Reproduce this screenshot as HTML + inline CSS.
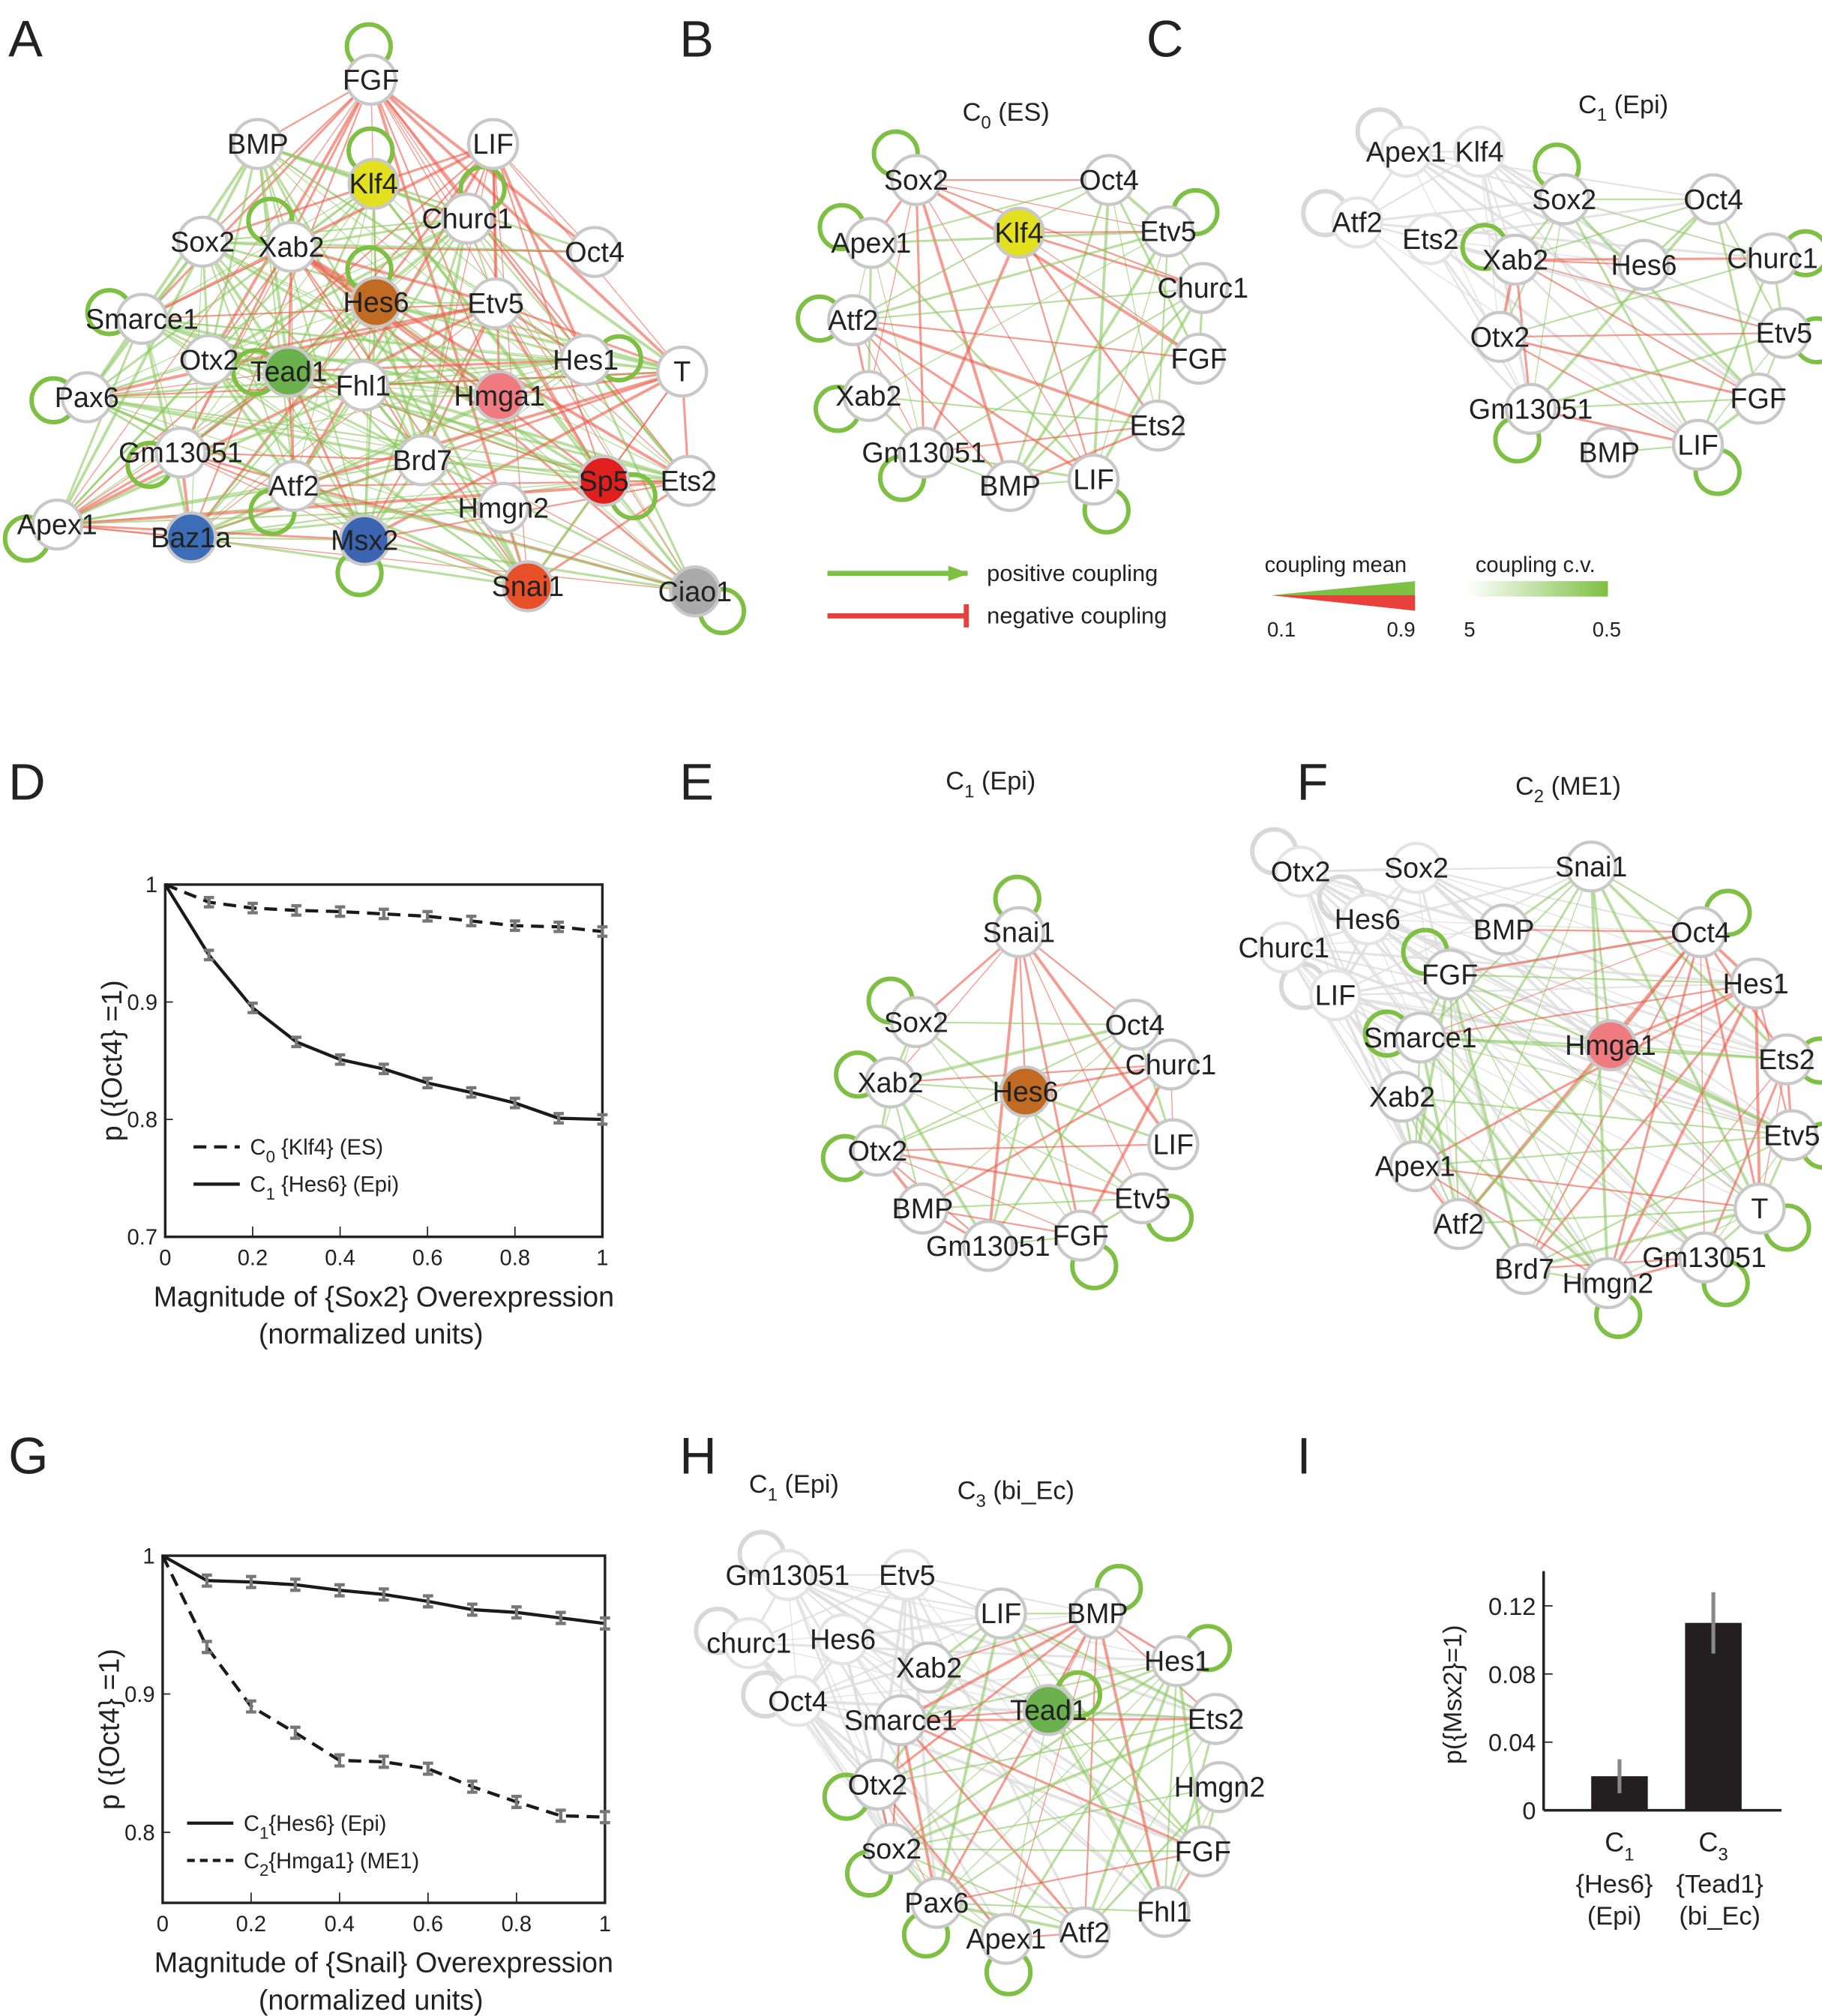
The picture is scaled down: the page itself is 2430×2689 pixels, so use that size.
<!DOCTYPE html>
<html><head><meta charset="utf-8"><style>
html,body{margin:0;padding:0;background:#fff}
svg{display:block}
text{font-family:"Liberation Sans Narrow","Liberation Sans",sans-serif;fill:#222}
.pl{font-family:"Liberation Sans",sans-serif;font-size:40px}
.nl{font-size:22px;text-anchor:middle;dominant-baseline:central}
.t{font-size:20px}
</style></head><body>
<svg id="fig" width="2430" height="2689" viewBox="0 0 1416 1568" xmlns="http://www.w3.org/2000/svg">
<g id="edges"></g>
<g id="nodes"></g>
<g>
<text class="pl" x="6" y="44">A</text><text class="pl" x="528" y="44">B</text><text class="pl" x="891" y="44">C</text>
<text class="pl" x="6" y="622">D</text><text class="pl" x="528" y="622">E</text><text class="pl" x="1008" y="622">F</text>
<text class="pl" x="6" y="1146">G</text><text class="pl" x="528" y="1146">H</text><text class="pl" x="1008" y="1146">I</text>
</g>
<g>
<text class="t" x="748" y="94">C<tspan font-size="14" dy="6">0</tspan><tspan dy="-6"> (ES)</tspan></text>
<text class="t" x="1227" y="88">C<tspan font-size="14" dy="6">1</tspan><tspan dy="-6">  (Epi)</tspan></text>
<text class="t" x="735" y="614">C<tspan font-size="14" dy="6">1</tspan><tspan dy="-6">  (Epi)</tspan></text>
<text class="t" x="1178" y="618">C<tspan font-size="14" dy="6">2</tspan><tspan dy="-6">  (ME1)</tspan></text>
<text class="t" x="582" y="1161">C<tspan font-size="14" dy="6">1</tspan><tspan dy="-6">  (Epi)</tspan></text>
<text class="t" x="744" y="1166">C<tspan font-size="14" dy="6">3</tspan><tspan dy="-6">  (bi_Ec)</tspan></text>
</g>
<g>
<defs><linearGradient id="cv" x1="0" x2="1"><stop offset="0" stop-color="#fff"/><stop offset="1" stop-color="#7dc043"/></linearGradient>
<marker id="ah" markerUnits="userSpaceOnUse" markerWidth="16" markerHeight="12" refX="15" refY="6" orient="auto"><path d="M0,0L16,6L0,12z" fill="#7dc043"/></marker></defs>
<line x1="643" y1="446" x2="752" y2="446" stroke="#7dc043" stroke-width="4" marker-end="url(#ah)"/>
<text x="767" y="452" font-size="18" fill="#444">positive coupling</text>
<line x1="643" y1="479" x2="750" y2="479" stroke="#e8403a" stroke-width="4"/>
<line x1="751" y1="470" x2="751" y2="488" stroke="#e8403a" stroke-width="4"/>
<text x="767" y="485" font-size="18" fill="#444">negative coupling</text>
<text x="983" y="445" font-size="17" fill="#444">coupling mean</text>
<polygon points="988,463 1100,452 1100,463" fill="#7dc043"/>
<polygon points="988,463 1100,463 1100,475" fill="#e8403a"/>
<text x="985" y="495" font-size="16">0.1</text><text x="1078" y="495" font-size="16">0.9</text>
<text x="1147" y="445" font-size="17" fill="#444">coupling c.v.</text>
<rect x="1140" y="452" width="110" height="12" fill="url(#cv)"/>
<text x="1138" y="495" font-size="16">5</text><text x="1238" y="495" font-size="16">0.5</text>
</g>
<g id="chartD"></g>
<g id="chartG"></g>
<g id="chartI"></g>
</svg>
<script>
const NS="http://www.w3.org/2000/svg";
function mk(p,tag,at){const e=document.createElementNS(NS,tag);for(const k in at)e.setAttribute(k,at[k]);p.appendChild(e);return e;}
const netA=[["FGF",288,62],["BMP",200,112],["Klf4",290,143,"#e3e020"],["LIF",383,112],["Churc1",363,170],["Sox2",157,188],["Xab2",226,192],["Oct4",462,196],["Hes6",292,235,"#c06a22"],["Etv5",385,236],["Smarce1",110,248],["Otx2",162,280],["Tead1",224,289,"#6ab04c"],["Fhl1",282,300],["Hes1",455,280],["T",530,289],["Pax6",67,309],["Hmga1",388,308,"#ef7a80"],["Gm13051",140,352],["Brd7",328,358],["Sp5",469,374,"#e0201f"],["Ets2",535,374],["Atf2",228,378],["Hmgn2",391,395],["Apex1",44,408],["Baz1a",148,418,"#3c6eb8"],["Msx2",283,420,"#3c64b0"],["Snai1",410,456,"#e8502a"],["Ciao1",540,460,"#aaaaaa"]];
const netB=[["Sox2",712,140],["Oct4",862,140],["Apex1",677,189],["Klf4",792,181,"#e3e020"],["Etv5",908,180],["Churc1",935,224],["Atf2",663,249],["FGF",932,279],["Xab2",675,308],["Ets2",900,331],["Gm13051",718,352],["BMP",785,378],["LIF",850,373]];
const netC=[["Apex1",1093,118,"g"],["Klf4",1150,118,"g"],["Atf2",1055,173,"g"],["Ets2",1112,186,"g"],["Sox2",1216,155],["Oct4",1332,155],["Xab2",1178,202],["Hes6",1278,206],["Churc1",1378,201],["Otx2",1166,262],["Etv5",1387,259],["FGF",1367,310],["Gm13051",1190,318],["BMP",1251,352],["LIF",1320,346]];
const netE=[["Snai1",792,725],["Oct4",882,797],["Sox2",712,795],["Churc1",910,828],["Xab2",692,842],["Hes6",797,849,"#c06a22"],["Otx2",682,895],["LIF",912,890],["Etv5",888,932],["BMP",717,940],["FGF",840,961],["Gm13051",768,969]];
const netF=[["Otx2",1011,678,"g"],["Sox2",1101,675,"g"],["Hes6",1063,715,"g"],["Churc1",998,737,"g"],["LIF",1038,774,"g"],["Snai1",1237,674],["Oct4",1322,725],["BMP",1169,723],["FGF",1127,758],["Hes1",1365,765],["Smarce1",1104,807],["Hmga1",1252,813,"#ef7a80"],["Ets2",1389,824],["Xab2",1090,853],["Etv5",1393,883],["Apex1",1100,907],["T",1368,940],["Atf2",1134,952],["Gm13051",1325,978],["Brd7",1185,987],["Hmgn2",1250,998]];
const netH=[["Gm13051",612,1225,"g"],["Etv5",705,1225,"g"],["churc1",582,1278,"g"],["Hes6",655,1275,"g"],["Oct4",620,1323,"g"],["LIF",778,1255],["BMP",853,1255],["Xab2",722,1297],["Hes1",915,1292],["Smarce1",700,1338],["Tead1",815,1330,"#6ab04c"],["Ets2",945,1337],["Otx2",682,1388],["Hmgn2",948,1390],["sox2",693,1438],["FGF",935,1440],["Pax6",728,1480],["Fhl1",905,1487],["Apex1",782,1508],["Atf2",843,1503]];
const EG=document.getElementById('edges'),ND=document.getElementById('nodes');
function drawNet(nodes,name,dens){
  let cx=0,cy=0;nodes.forEach(n=>{cx+=n[1];cy+=n[2]});cx/=nodes.length;cy/=nodes.length;
  for(let i=0;i<nodes.length;i++)for(let j=i+1;j<nodes.length;j++){
    const h=(i*7+j*13+i*j)%10; if(h>=dens)continue;
    const a=nodes[i],b=nodes[j];const gray=a[3]==="g"||b[3]==="g";
    const col=gray?"#dcdcdc":((i+j*3)%3?"#8cc860":"#ec5a48");
    const l=mk(EG,'line',{x1:a[1],y1:a[2],x2:b[1],y2:b[2],stroke:col,'stroke-width':((i*3+j)%4)*0.5+0.8,'stroke-opacity':gray?0.8:0.6});
    
    
  }
  nodes.forEach((n,i)=>{
    if(i%2===0){let dx=n[1]-cx,dy=n[2]-cy,d=Math.hypot(dx,dy)||1;dx/=d;dy/=d;
      const c=mk(EG,'circle',{cx:n[1]+dx*26,cy:n[2]+dy*26,r:17,fill:'none',stroke:n[3]==="g"?"#d8d8d8":"#7dc043",'stroke-width':3.5});
      
      }
  });
  nodes.forEach(n=>{
    const g=mk(ND,'g',{});
    
    
    const fill=(n[3]&&n[3]!=="g")?n[3]:"#fff";
    mk(g,'circle',{cx:n[1],cy:n[2],r:19,fill:fill,stroke:n[3]==="g"?"#e4e4e4":"#c8c8c8",'stroke-width':2.5});
    const t=mk(g,'text',{x:n[1],y:n[2],class:'nl'});t.textContent=n[0];
  });
}
drawNet(netA,'net-a',6);drawNet(netB,'net-b',7);drawNet(netC,'net-c',7);
drawNet(netE,'net-e',7);drawNet(netF,'net-f',7);drawNet(netH,'net-h',7);
const xVals=[0,0.1,0.2,0.3,0.4,0.5,0.6,0.7,0.8,0.9,1];
const xTicks=[0,0.2,0.4,0.6,0.8,1];
const dKlf4=[1,0.985,0.98,0.978,0.977,0.975,0.973,0.969,0.965,0.964,0.96];
const dHes6=[1,0.94,0.895,0.866,0.851,0.843,0.831,0.823,0.814,0.801,0.8];
const dYTicks=[0.7,0.8,0.9,1];
const gHes6=[1,0.982,0.981,0.979,0.975,0.972,0.967,0.961,0.959,0.955,0.951];
const gHmga1=[1,0.934,0.891,0.872,0.852,0.851,0.846,0.833,0.822,0.812,0.811];
const gYTicks=[0.8,0.9,1];
function lineChart(g,o){
  const X=v=>o.x0+(o.x1-o.x0)*v, Y=v=>o.y1-(o.y1-o.y0)*(v-o.ymin)/(o.ymax-o.ymin);
  const r=mk(g,'rect',{x:o.x0,y:o.y0,width:o.x1-o.x0,height:o.y1-o.y0,fill:'none',stroke:'#222','stroke-width':2});
  
  o.yt.forEach(v=>{mk(g,'line',{x1:o.x0,x2:o.x0+6,y1:Y(v),y2:Y(v),stroke:'#222'});
    const t=mk(g,'text',{x:o.x0-6,y:Y(v)+6,'font-size':17,'text-anchor':'end'});t.textContent=String(v);
    });
  xTicks.forEach(v=>{mk(g,'line',{x1:X(v),x2:X(v),y1:o.y1,y2:o.y1-8,stroke:'#222'});
    const t=mk(g,'text',{x:X(v),y:o.y1+22,'font-size':17,'text-anchor':'middle'});t.textContent=String(v);
    });
  o.series.forEach(s=>{
    const p=mk(g,'path',{d:s.v.map((v,i)=>(i?'L':'M')+X(xVals[i])+','+Y(v)).join(''),fill:'none',stroke:'#1a1a1a','stroke-width':2.5,'stroke-dasharray':s.dash||''});
    
    s.v.forEach((v,i)=>{if(!i)return;const x=X(xVals[i]),e=0.004;
      const b=mk(g,'path',{d:`M${x},${Y(v+e)}V${Y(v-e)}M${x-4},${Y(v+e)}h8M${x-4},${Y(v-e)}h8`,stroke:'#777','stroke-width':2.5,fill:'none'});
      });
  });
  o.leg.forEach((l,i)=>{const y=o.ly+i*29;
    mk(g,'line',{x1:o.lx,x2:o.lx+36,y1:y,y2:y,stroke:'#1a1a1a','stroke-width':2.5,'stroke-dasharray':l.dash||''});
    const t=mk(g,'text',{x:o.lx+44,y:y+6,'font-size':17});t.innerHTML=l.t;
    });
  const a=mk(g,'text',{x:(o.x0+o.x1)/2,y:o.y1+54,'font-size':22,'text-anchor':'middle'});a.textContent=o.xl;
  
  const a2=mk(g,'text',{x:(o.x0+o.x1)/2-10,y:o.y1+83,'font-size':22,'text-anchor':'middle'});a2.textContent='(normalized units)';
  const yl=mk(g,'text',{transform:`translate(${o.x0-34},${(o.y0+o.y1)/2}) rotate(-90)`,'font-size':22,'text-anchor':'middle'});yl.textContent='p ({Oct4} =1)';
  
}
lineChart(document.getElementById('chartD'),{x0:128,x1:468,y0:688,y1:962,ymin:0.7,ymax:1,yt:dYTicks,
  series:[{v:dKlf4,dash:'10,6',name:'line-c0-klf4'},{v:dHes6,name:'line-c1-hes6'}],
  leg:[{t:'C<tspan dy="6" font-size="13">0</tspan><tspan dy="-6"> {Klf4} (ES)</tspan>',dash:'10,6'},{t:'C<tspan dy="6" font-size="13">1</tspan><tspan dy="-6"> {Hes6} (Epi)</tspan>'}],
  lx:150,ly:892,xl:'Magnitude of {Sox2} Overexpression'});
lineChart(document.getElementById('chartG'),{x0:126,x1:470,y0:1210,y1:1480,ymin:0.749,ymax:1,yt:gYTicks,
  series:[{v:gHes6,name:'line-c1-hes6'},{v:gHmga1,dash:'10,6',name:'line-c2-hmga1'}],
  leg:[{t:'C<tspan dy="6" font-size="13">1</tspan><tspan dy="-6">{Hes6} (Epi)</tspan>'},{t:'C<tspan dy="6" font-size="13">2</tspan><tspan dy="-6">{Hmga1} (ME1)</tspan>',dash:'6,4'}],
  lx:145,ly:1418,xl:'Magnitude of {Snail} Overexpression'});
const iCats=["C1","C3"];
const iVals=[0.02,0.11];
const iErr=[0.01,0.018];
const iTicks=[0,0.04,0.08,0.12];
(function(){
  const g=document.getElementById('chartI');
  const Y=v=>1408-v*1325, base=1408, bx=[1259,1332];
  mk(g,'line',{x1:1200,x2:1200,y1:1222,y2:base,stroke:'#222','stroke-width':2});
  mk(g,'line',{x1:1200,x2:1385,y1:base,y2:base,stroke:'#222','stroke-width':2});
  iTicks.forEach(v=>{mk(g,'line',{x1:1200,x2:1207,y1:Y(v),y2:Y(v),stroke:'#222'});
    const t=mk(g,'text',{x:1194,y:Y(v)+7,'font-size':19,'text-anchor':'end'});t.textContent=String(v);
    });
  iVals.forEach((v,i)=>{
    const r=mk(g,'rect',{x:bx[i]-22,y:Y(v),width:44,height:base-Y(v),fill:'#231f20'});
    
    const e=mk(g,'line',{x1:bx[i],x2:bx[i],y1:Y(v+iErr[i]),y2:Y(v-iErr[i]),stroke:'#888','stroke-width':3});
    
    const t=mk(g,'text',{x:bx[i],y:1440,'font-size':21,'text-anchor':'middle'});
    t.innerHTML='C<tspan dy="7" font-size="14">'+iCats[i].slice(1)+'</tspan>';
  });
  const l=[["{Hes6}",1255,1472],["(Epi)",1255,1497],["{Tead1}",1337,1472],["(bi_Ec)",1337,1497]];
  l.forEach(a=>{const t=mk(g,'text',{x:a[1],y:a[2],'font-size':20,'text-anchor':'middle'});t.textContent=a[0];});
  const yl=mk(g,'text',{transform:'translate(1136,1318) rotate(-90)','font-size':20,'text-anchor':'middle'});yl.textContent='p({Msx2}=1)';
  
})();
</script>
</body></html>
